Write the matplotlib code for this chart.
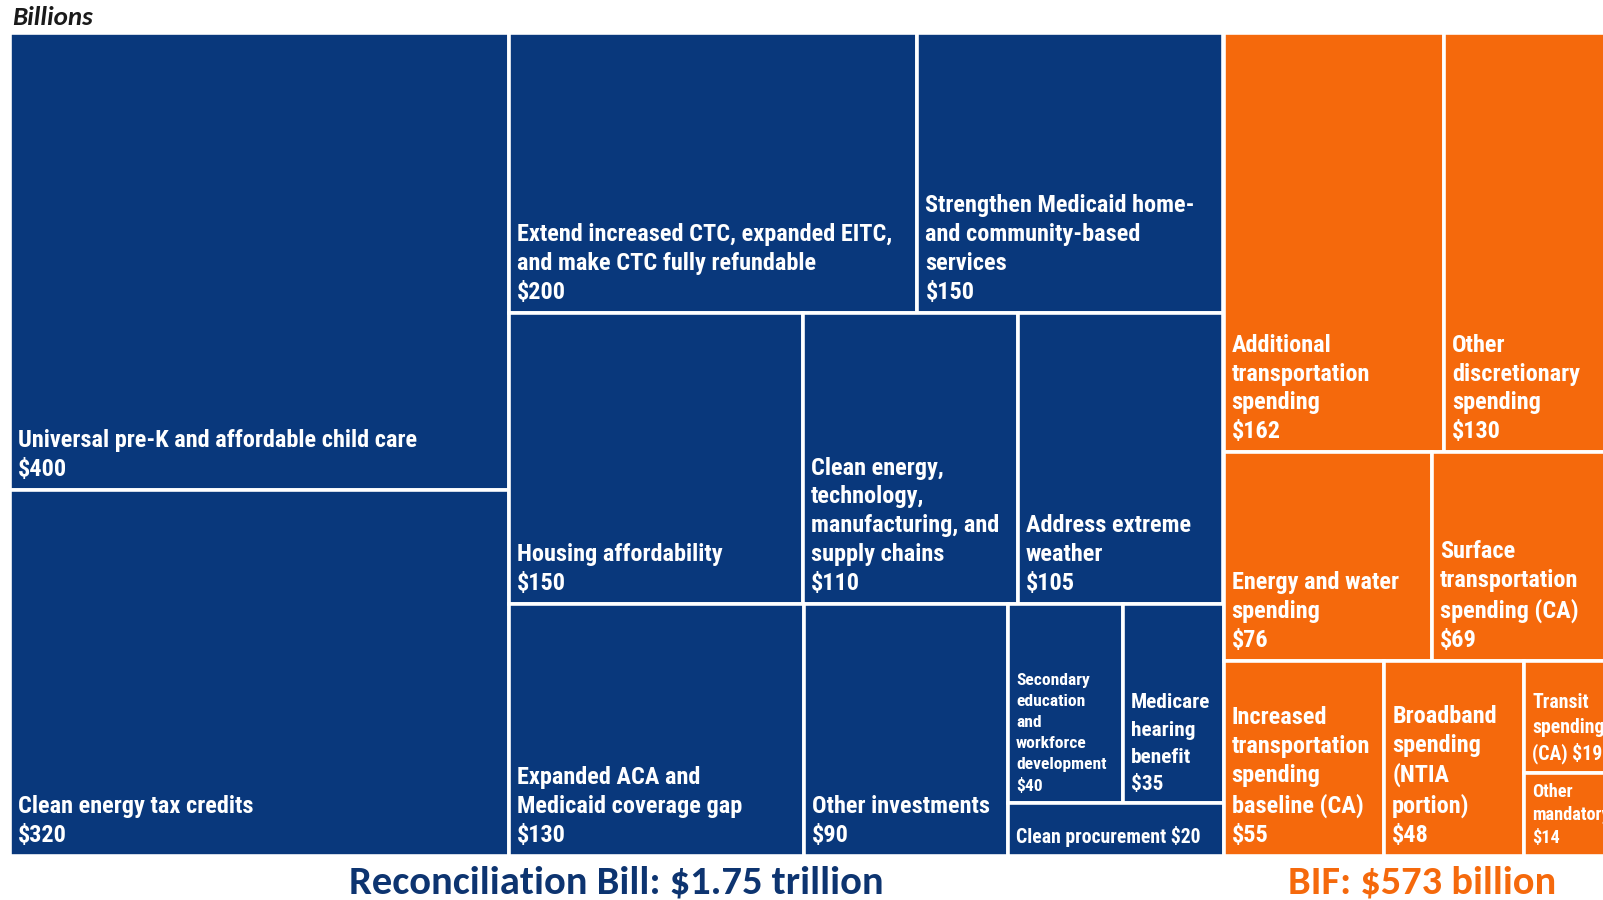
import matplotlib
matplotlib.use("Agg")
import matplotlib.pyplot as plt
from matplotlib.patches import Rectangle

# Spending in billions of dollars
recon_labels = [
    "Universal pre-K and affordable child care\n$400",
    "Clean energy tax credits\n$320",
    "Extend increased CTC, expanded EITC,\nand make CTC fully refundable\n$200",
    "Strengthen Medicaid home-\nand community-based\nservices\n$150",
    "Housing affordability\n$150",
    "Clean energy,\ntechnology,\nmanufacturing, and\nsupply chains\n$110",
    "Address extreme\nweather\n$105",
    "Expanded ACA and\nMedicaid coverage gap\n$130",
    "Other investments\n$90",
    "Secondary\neducation\nand\nworkforce\ndevelopment\n$40",
    "Medicare\nhearing\nbenefit\n$35",
    "Clean procurement $20",
]
recon_values = [400, 320, 200, 150, 150, 110, 105, 130, 90, 40, 35, 20]

bif_labels = [
    "Additional\ntransportation\nspending\n$162",
    "Other\ndiscretionary\nspending\n$130",
    "Energy and water\nspending\n$76",
    "Surface\ntransportation\nspending (CA)\n$69",
    "Increased\ntransportation\nspending\nbaseline (CA)\n$55",
    "Broadband\nspending\n(NTIA\nportion)\n$48",
    "Transit\nspending\n(CA) $19",
    "Other\nmandatory\n$14",
]
bif_values = [162, 130, 76, 69, 55, 48, 19, 14]

recon_title = "Reconciliation Bill: $1.75 trillion"
bif_title = "BIF: $573 billion"
unit_label = "Billions"

# Slice-and-dice structure: 'h' splits side by side, 'v' stacks top to bottom
recon_tree = ("h", [("v", [0, 1]),
                    ("v", [("h", [2, 3]),
                           ("h", [4, 5, 6]),
                           ("h", [7, 8, ("v", [("h", [9, 10]), 11])])])])
bif_tree = ("v", [("h", [0, 1]), ("h", [2, 3]), ("h", [4, 5, ("v", [6, 7])])])

BLUE = "#09387c"
ORANGE = "#f5690c"
TITLE_BLUE = "#0d3470"
LABEL_FONT = ["Arial Narrow", "Liberation Sans Narrow", "Roboto Condensed",
              "Archivo Narrow", "Open Sans Condensed", "DejaVu Sans"]
TITLE_FONT = ["Carlito", "Calibri", "Lato", "DejaVu Sans"]
UNIT_FONT = ["Carlito", "Calibri", "Open Sans", "DejaVu Sans"]

recon_sizes = [16, 16, 16, 16, 16, 16, 16, 16, 16, 11.5, 14, 13]
recon_spacing = [1.33] * 9 + [1.5, 1.55, 1.2]
bif_sizes = [16, 16, 16, 16, 16, 16, 13, 12]
bif_spacing = [1.33] * 6 + [1.35, 1.35]


def node_total(node, values):
    if isinstance(node, int):
        return values[node]
    return sum(node_total(c, values) for c in node[1])


def layout(node, values, x, y, w, h, out):
    if isinstance(node, int):
        out.append((node, x, y, w, h))
        return out
    kind, children = node
    total = node_total(node, values)
    pos = 0.0
    for c in children:
        frac = node_total(c, values) / total
        if kind == "h":
            layout(c, values, x + pos * w, y, w * frac, h, out)
        else:
            layout(c, values, x, y + pos * h, w, h * frac, out)
        pos += frac
    return out


W_PX, H_PX = 1603, 900
fig = plt.figure(figsize=(W_PX / 100, H_PX / 100), dpi=100)
fig.patch.set_facecolor("white")
renderer = fig.canvas.get_renderer()


def size_for_width(text, size, target_px, **kw):
    """Font size at which `text` spans target_px pixels."""
    t = fig.text(0, 0, text, fontsize=size, **kw)
    w = t.get_window_extent(renderer=renderer).width
    t.remove()
    return size * target_px / w


# Scale label fonts so the widest single-line label spans its printed width
label_scale = size_for_width("Universal pre-K and affordable child care", 16, 400,
                             family=LABEL_FONT, fontweight="bold") / 16

# Treemap area in pixels
left, top, bottom = 10, 33, 856
map_h = bottom - top
blue_w = 1213.5
total_all = sum(recon_values) + sum(bif_values)
map_w = blue_w * total_all / sum(recon_values)

ax = fig.add_axes([left / W_PX, (H_PX - bottom) / H_PX, (W_PX - left) / W_PX, map_h / H_PX])
ax.set_xlim(0, W_PX - left)
ax.set_ylim(map_h, 0)
ax.axis("off")

recon_w = map_w * sum(recon_values) / total_all
bif_w = map_w - recon_w

groups = [
    (recon_tree, recon_values, recon_labels, recon_sizes, recon_spacing, BLUE, 0.0, recon_w),
    (bif_tree, bif_values, bif_labels, bif_sizes, bif_spacing, ORANGE, recon_w, bif_w),
]

for tree, vals, labels, sizes, spacing, color, x0, gw in groups:
    for idx, x, y, w, h in layout(tree, vals, x0, 0.0, gw, map_h, []):
        ax.add_patch(Rectangle((x, y), w, h, facecolor=color, edgecolor="white",
                               linewidth=2.6, clip_on=True))
        ax.text(x + 8, y + h - 9, labels[idx], color="white",
                fontsize=sizes[idx] * label_scale, fontweight="bold",
                family=LABEL_FONT, ha="left", va="bottom",
                linespacing=spacing[idx], clip_on=True)

unit_size = size_for_width(unit_label, 16, 81, family=UNIT_FONT,
                           fontweight="bold", fontstyle="italic")
fig.text(12 / W_PX, 1 - 25 / H_PX, unit_label, fontsize=unit_size, fontweight="bold",
         fontstyle="italic", family=UNIT_FONT, color="#1a1a1a",
         ha="left", va="baseline")

recon_size = size_for_width(recon_title, 24, 534, family=TITLE_FONT, fontweight="bold")
bif_size = size_for_width(bif_title, 24, 268, family=TITLE_FONT, fontweight="bold")
fig.text(616 / W_PX, 1 - 894 / H_PX, recon_title, fontsize=recon_size, fontweight="bold",
         family=TITLE_FONT, color=TITLE_BLUE, ha="center", va="baseline")
fig.text(1422 / W_PX, 1 - 894 / H_PX, bif_title, fontsize=bif_size, fontweight="bold",
         family=TITLE_FONT, color=ORANGE, ha="center", va="baseline")

fig.savefig("out.png", dpi=100)
